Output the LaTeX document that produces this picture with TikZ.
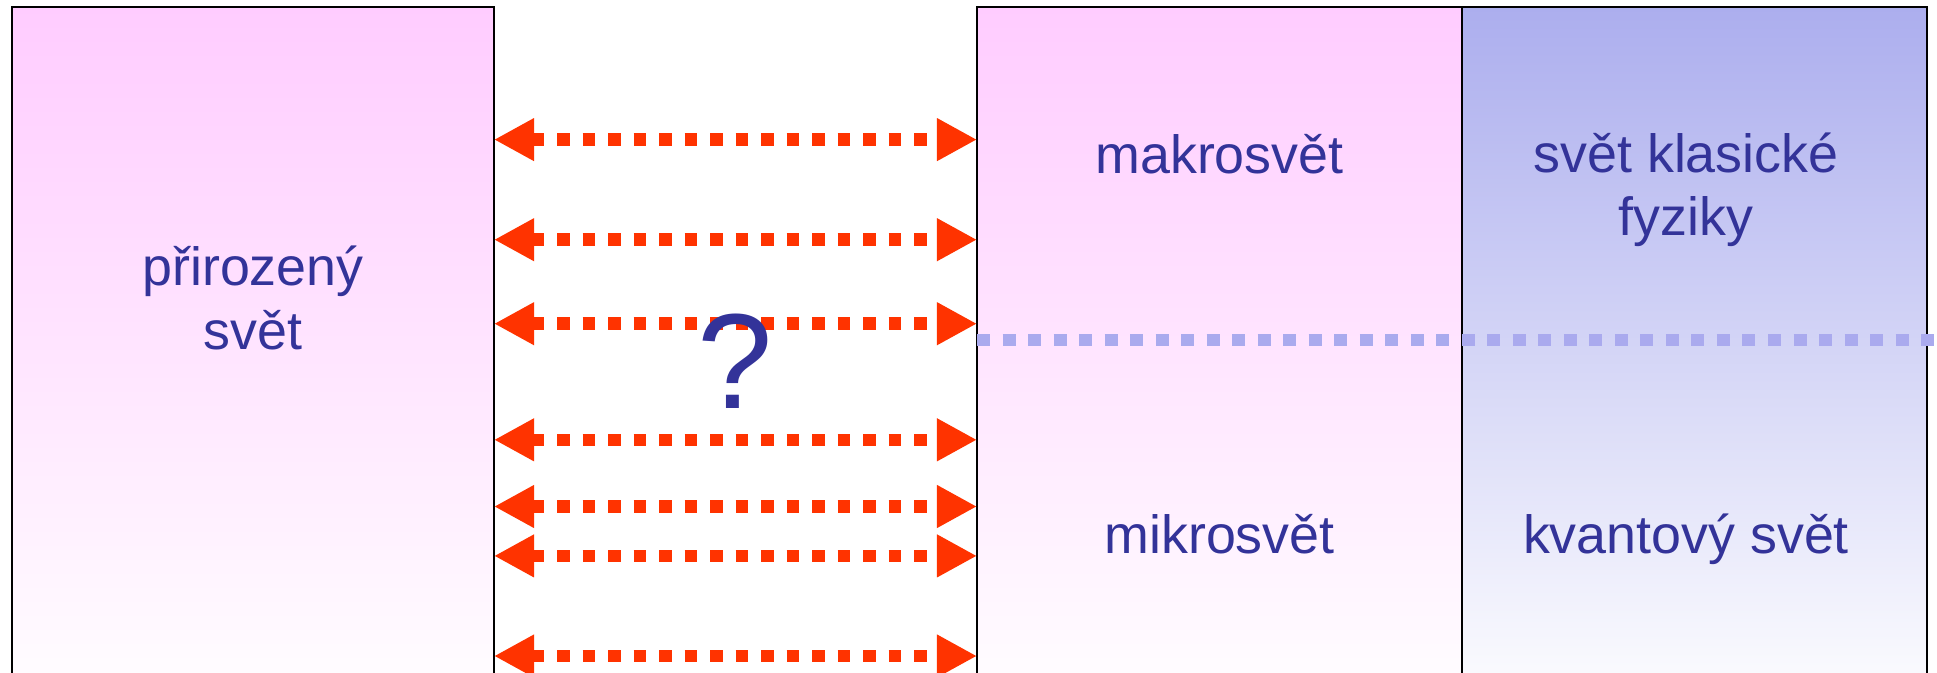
\documentclass[tikz,border=0pt]{standalone}
\usepackage{fontspec}
\setmainfont{Liberation Sans}
\usetikzlibrary{arrows.meta}
\definecolor{txtblue}{HTML}{333399}
\definecolor{arrred}{HTML}{FF3300}
\definecolor{pinktop}{HTML}{FFCCFF}
\definecolor{bluetop}{HTML}{ACAEEE}
\definecolor{dotblue}{HTML}{AAAAEE}
\tikzset{
  lbl/.style={text=txtblue, font=\fontsize{15.3}{18}\selectfont, inner sep=0pt, align=center},
  bidir/.style={draw=arrred, line width=0.125cm, dash pattern=on 0.125cm off 0.13cm,
     {Triangle[length=0.4cm,width=0.4cm]}-{Triangle[length=0.4cm,width=0.4cm]}, shorten <=0pt, shorten >=0pt},
  sep/.style={draw=dotblue, line width=0.12cm, dash pattern=on 0.13cm off 0.125cm},
  frame/.style={draw=black, line width=0.6pt}
}
\begin{document}
\begin{tikzpicture}[x=0.01cm,y=-0.01cm]
\useasboundingbox (0,0) rectangle (1937,673);
\begin{scope}
\clip (0,0) rectangle (1937,673);
\shade[top color=pinktop, bottom color=white, middle color=pinktop!50!white] (12,7) rectangle (494,720);
\shade[top color=pinktop, bottom color=white, middle color=pinktop!50!white] (977,7) rectangle (1462,720);
\shade[top color=bluetop, bottom color=white, middle color=bluetop!50!white] (1462,7) rectangle (1927,720);
\draw[frame] (12,720) -- (12,7) -- (494,7) -- (494,720);
\draw[frame] (977,720) -- (977,7) -- (1927,7) -- (1927,720);
\draw[frame] (1462,7) -- (1462,720);
\end{scope}
% separator
\coordinate (s1) at (977,340);
\coordinate (s2) at (1937,340);
\draw[sep] (s1) -- (s2);
% arrows
\foreach \i/\y in {1/139.6, 2/239.7, 3/323.7, 4/439.8, 5/506.5, 6/555.9, 7/656}{
  \coordinate (l\i) at (494,\y);
  \coordinate (r\i) at (977,\y);
  \draw[bidir] (l\i) -- (r\i);
}
% texts
\node[lbl] (nat) at (253,298) {přirozený\\svět};
\node[lbl, anchor=base] (makro) at (1219.5,174) {makrosvět};
\node[lbl] (klas) at (1686,190) {svět klasické\\fyziky};
\node[lbl, anchor=base] (mikro) at (1219.5,553) {mikrosvět};
\node[lbl, anchor=base] (kvant) at (1686,553) {kvantový svět};
\node[text=txtblue, font=\fontsize{38.5}{38.5}\selectfont, inner sep=0pt, anchor=base] (q) at (735.5,408) {?};
\end{tikzpicture}
\end{document}
